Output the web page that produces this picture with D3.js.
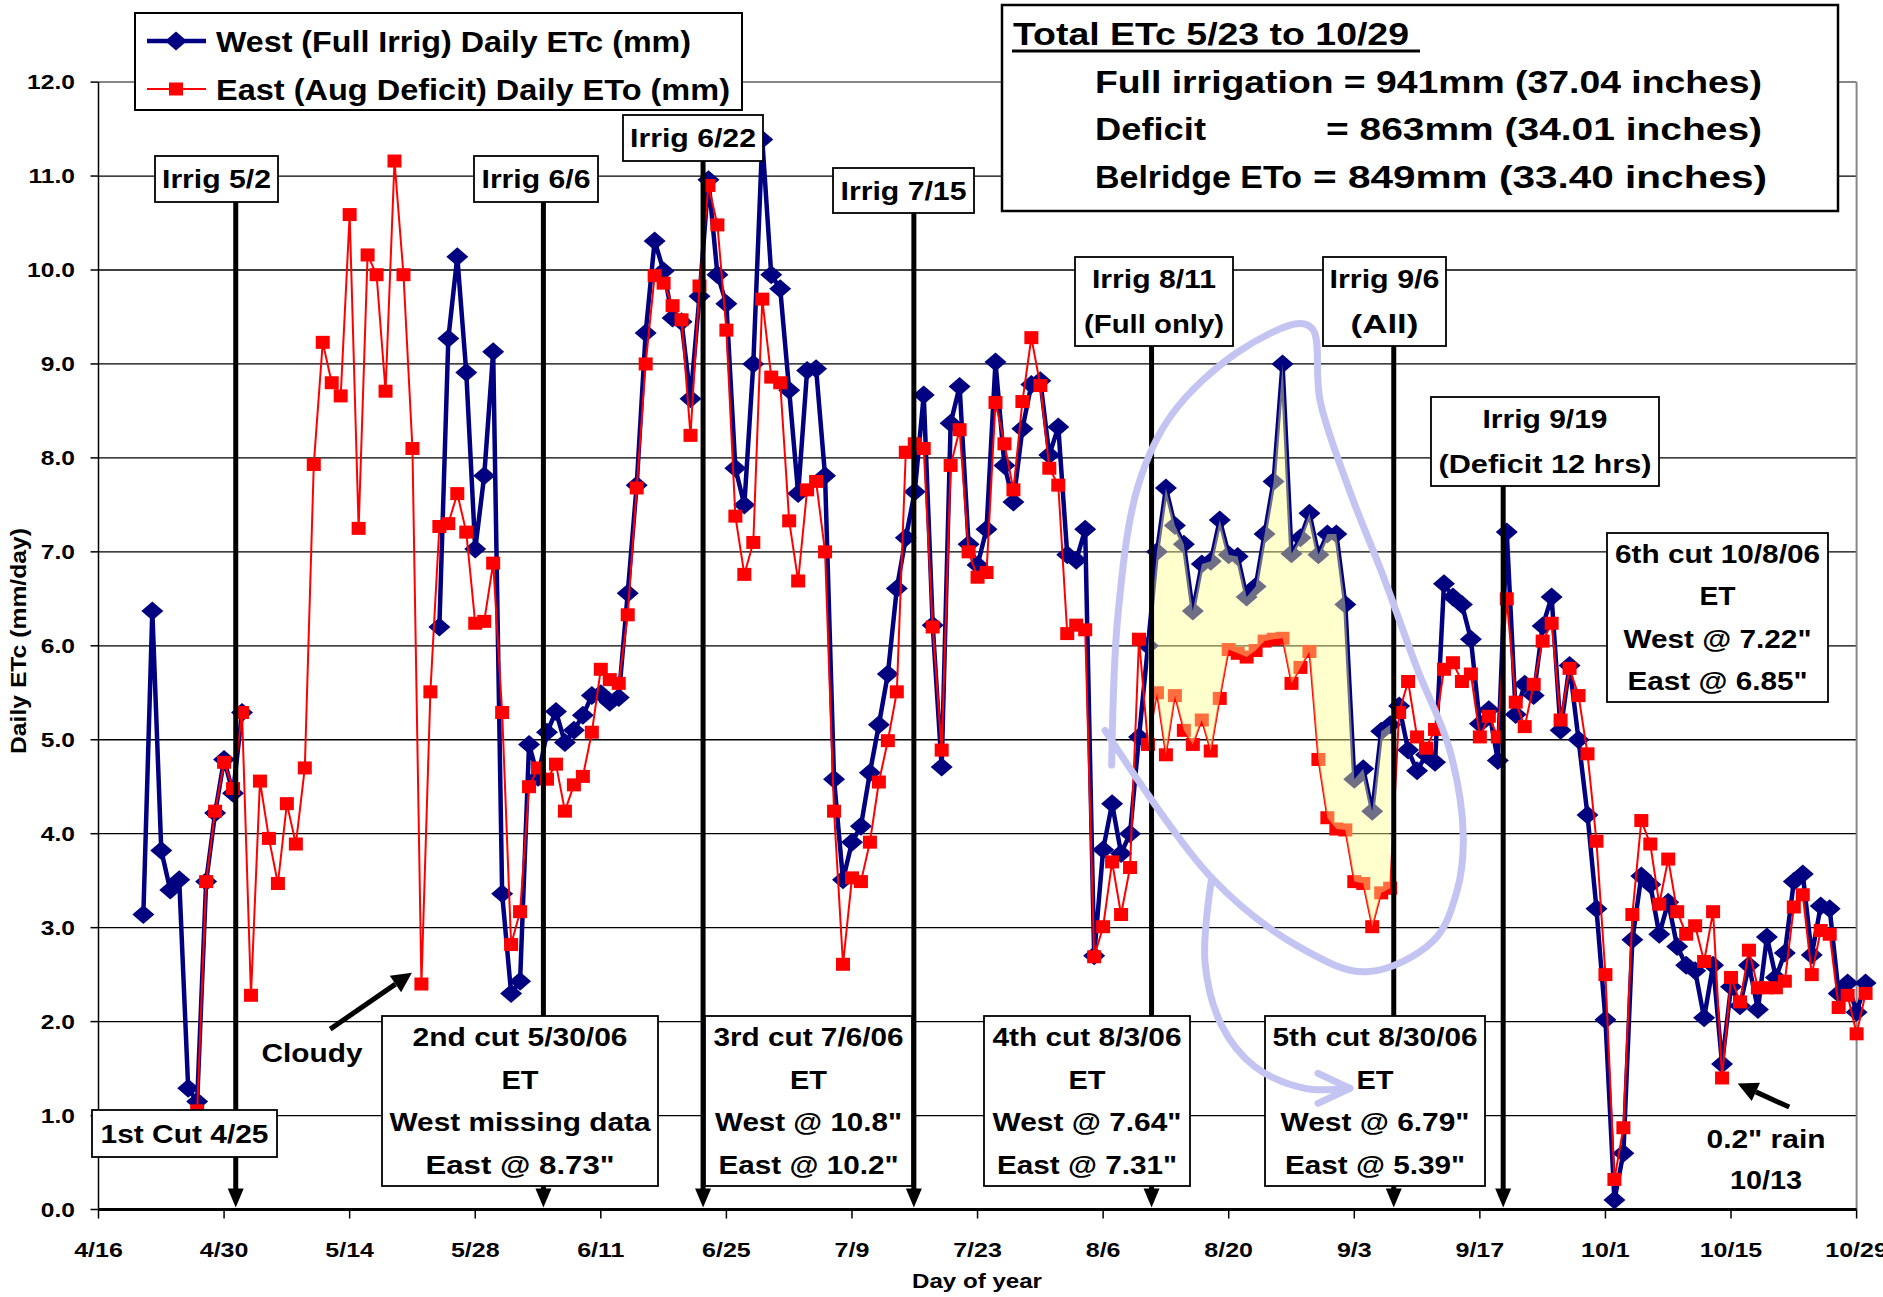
<!DOCTYPE html>
<html lang="en">
<head>
<meta charset="UTF-8">
<title>Daily ETc West vs East</title>
<script src="https://cdn.jsdelivr.net/npm/d3@7"></script>
<style>
  body { margin: 0; background: #fff; }
  svg { display: block; font-family: "Liberation Sans", Arial, sans-serif; }
</style>
</head>
<body>
<svg id="chart" width="1883" height="1297"></svg>
<script>
// ---- data ----
const year = 2006;
const tickLabels = ["4/16", "4/30", "5/14", "5/28", "6/11", "6/25", "7/9", "7/23", "8/6", "8/20", "9/3", "9/17", "10/1", "10/15", "10/29"];
const yTicks = [0, 1, 2, 3, 4, 5, 6, 7, 8, 9, 10, 11, 12];

// West (full irrigation) daily ETc, one value per day from westStart (null = missing data)
const westStart = "4/21";
const westEtc = [
  3.14, 6.37, 3.82, 3.40, 3.51, 1.29, 1.15, 3.49, 4.22, 4.79, 4.43, 5.29,
  null, null, null, null, null, null, null, null, null, null, null, null, null, null, null, null, null, null, null, null, null,
  6.20, 9.27, 10.14, 8.91, 7.03, 7.81, 9.13, 3.36, 2.30, 2.43,
  4.95, 4.60, 5.08, 5.30, 4.97, 5.10, 5.26, 5.47, 5.49, 5.40,
  5.45, 6.56, 7.71, 9.33, 10.31, 9.99, 9.49, 9.45, 8.63, 9.72,
  10.96, 9.95, 9.64, 7.89, 7.50, 9.00, 11.39, 9.95, 9.80, 8.72,
  7.62, 8.93, 8.95, 7.81, 4.58, 3.51, 3.91, 4.08, 4.65, 5.16,
  5.70, 6.61, 7.15, 7.64, 8.67, 6.22, 4.71, 8.37, 8.76, 7.08,
  6.86, 7.24, 9.02, 7.92, 7.53, 8.31, 8.78, 8.82, 8.03, 8.33,
  6.97, 6.91, 7.24, 2.70, 3.83, 4.32, 3.79, 4.00, 5.03, 6.00,
  7.00, 7.68, 7.28, 7.08, 6.37, 6.87, 6.90, 7.34, 6.97, 6.95,
  6.52, 6.63, 7.19, 7.75, 9.00, 6.98, 7.15, 7.41, 6.97, 7.19,
  7.19, 6.44, 4.58, 4.69, 4.24, 5.09, 5.16, 5.36, 4.89, 4.67,
  4.84, 4.76, 6.66, 6.52, 6.44, 6.07, 5.17, 5.32, 4.78, 7.21,
  5.27, 5.59, 5.47, 6.21, 6.52, 5.10, 5.79, 5.00, 4.20, 3.20,
  2.02, 0.10, 0.60, 2.87, 3.55, 3.46, 2.93, 3.27, 2.80, 2.60,
  2.54, 2.04, 2.60, 1.55, 2.37, 2.17, 2.60, 2.13, 2.90, 2.47,
  2.73, 3.49, 3.57, 2.71, 3.23, 3.20, 2.30, 2.41, 2.10, 2.41
];

// East (August deficit) daily values from eastStart
const eastStart = "4/27";
const eastEto = [
  1.05, 3.49, 4.24, 4.76, 4.48, 5.29, 2.28, 4.56, 3.95, 3.47,
  4.32, 3.89, 4.70, 7.93, 9.23, 8.80, 8.66, 10.59, 7.25, 10.16,
  9.95, 8.71, 11.16, 9.95, 8.10, 2.40, 5.51, 7.27, 7.30, 7.62,
  7.21, 6.24, 6.26, 6.88, 5.29, 2.82, 3.17, 4.50, 4.70, 4.58,
  4.74, 4.24, 4.52, 4.61, 5.08, 5.75, 5.64, 5.60, 6.33, 7.68,
  9.00, 9.94, 9.86, 9.62, 9.47, 8.24, 9.83, 10.90, 10.48, 9.36,
  7.38, 6.76, 7.10, 9.69, 8.86, 8.80, 7.33, 6.69, 7.66, 7.75,
  7.00, 4.24, 2.61, 3.53, 3.49, 3.91, 4.55, 4.99, 5.51, 8.06,
  8.15, 8.10, 6.20, 4.89, 7.92, 8.30, 7.00, 6.73, 6.78, 8.59,
  8.15, 7.66, 8.60, 9.28, 8.77, 7.89, 7.71, 6.13, 6.22, 6.17,
  2.69, 3.01, 3.70, 3.14, 3.64, 6.07, 4.95, 5.50, 4.84, 5.47,
  5.10, 4.95, 5.21, 4.88, 5.44, 5.96, 5.92, 5.88, 5.95, 6.05,
  6.07, 6.08, 5.60, 5.77, 5.94, 4.79, 4.17, 4.05, 4.04, 3.49,
  3.47, 3.01, 3.37, 3.42, 5.29, 5.62, 5.03, 4.91, 5.11, 5.75,
  5.82, 5.62, 5.70, 5.03, 5.25, 5.03, 6.50, 5.40, 5.14, 5.59,
  6.05, 6.24, 5.21, 5.76, 5.47, 4.85, 3.92, 2.50, 0.32, 0.87,
  3.14, 4.14, 3.89, 3.25, 3.73, 3.17, 2.93, 3.02, 2.64, 3.17,
  1.40, 2.47, 2.21, 2.76, 2.36, 2.36, 2.36, 2.43, 3.22, 3.35,
  2.50, 2.97, 2.93, 2.15, 2.28, 1.87, 2.30
];

// deficit period shaded between the two series
const shadeFrom = "8/11";
const shadeTo = "9/7";

// irrigation markers: label lines, position in days after 4/16 (as drawn), label box
const irrigations = [
  { lines: ["Irrig 5/2"], at: 15.3, box: [155, 156, 278, 202], widths: [109] },
  { lines: ["Irrig 6/6"], at: 49.6, box: [474, 156, 598, 202], widths: [109] },
  { lines: ["Irrig 6/22"], at: 67.4, box: [623, 115, 763, 161], widths: [126] },
  { lines: ["Irrig 7/15"], at: 90.9, box: [833, 168, 974, 213], widths: [126] },
  { lines: ["Irrig 8/11", "(Full only)"], at: 117.4, box: [1075, 257, 1233, 346], widths: [124, 140] },
  { lines: ["Irrig 9/6", "(All)"], at: 144.4, box: [1323, 257, 1446, 346], widths: [110, 68] },
  { lines: ["Irrig 9/19", "(Deficit 12 hrs)"], at: 156.6, box: [1431, 397, 1659, 486], widths: [125, 213] }
];

// cutting notes
const notes = [
  { lines: ["1st Cut 4/25"], box: [92, 1110, 277, 1157], widths: [168] },
  { lines: ["2nd cut 5/30/06", "ET", "West missing data", "East @ 8.73\""], box: [382, 1016, 658, 1186], widths: [215, 37, 261, 189] },
  { lines: ["3rd cut 7/6/06", "ET", "West @ 10.8\"", "East @ 10.2\""], box: [705, 1016, 912, 1186], widths: [190, 37, 187, 180] },
  { lines: ["4th cut 8/3/06", "ET", "West @ 7.64\"", "East @ 7.31\""], box: [984, 1016, 1190, 1186], widths: [189, 37, 189, 180] },
  { lines: ["5th cut 8/30/06", "ET", "West @ 6.79\"", "East @ 5.39\""], box: [1265, 1016, 1485, 1186], widths: [205, 37, 189, 180] },
  { lines: ["6th cut 10/8/06", "ET", "West @ 7.22\"", "East @ 6.85\""], box: [1607, 533, 1828, 702], widths: [205, 36, 188, 180] }
];

// hand-drawn loop around the deficit period, in (days after 4/16, mm/day)
const loopPts = [[112.95, 4.73], [113.69, 6.37], [115.92, 7.71], [119.64, 8.46], [127.07, 9.13], [133.95, 9.43],
  [135.43, 9.36], [136.18, 8.61], [139.52, 7.64], [143.23, 6.74], [146.96, 5.77], [150.67, 4.88], [152.15, 3.98],
  [151.42, 3.38], [148.81, 2.86], [141.38, 2.53], [133.95, 2.79], [124.1, 3.53], [112.21, 5.10]];
const tailPts = [[124.1, 3.53], [123.35, 2.64], [125.21, 1.96], [128.93, 1.52], [134.5, 1.29], [139.52, 1.29]];

// ---- drawing ----
const W = 1883, H = 1297;
const X0 = 98.5, X1 = 1856.6, Y0 = 1209.5, Y1 = 82.1;
const navy = "#000080", red = "#ff0000";

const parseMD = s => d3.utcParse("%m/%d/%Y")(s + "/" + year);
const t0 = parseMD(tickLabels[0]);

const x = d3.scaleUtc()
  .domain([t0, parseMD(tickLabels[tickLabels.length - 1])])
  .range([X0, X1]);
const y = d3.scaleLinear().domain([0, 12]).range([Y0, Y1]);
const xd = d => x(new Date(+t0 + d * 864e5)); // fractional days after 4/16

const svg = d3.select("#chart");
svg.append("rect").attr("width", W).attr("height", H).attr("fill", "#fff");

function txt(parent, px, py, s, o) {
  const t = parent.append("text")
    .attr("x", px).attr("y", py).text(s)
    .attr("font-size", o.size)
    .attr("font-weight", o.weight || "bold")
    .attr("text-anchor", o.anchor || "start")
    .attr("fill", "#000");
  if (o.width) {
    t.attr("textLength", o.width).attr("lengthAdjust", "spacingAndGlyphs");
  } else if (o.stretch) {
    const w = t.node().getComputedTextLength();
    t.attr("textLength", w * o.stretch).attr("lengthAdjust", "spacingAndGlyphs");
  }
  return t;
}

// grid + frame
const grid = svg.append("g");
yTicks.filter(v => v > 0).forEach(v => {
  grid.append("line")
    .attr("x1", X0).attr("x2", X1).attr("y1", y(v)).attr("y2", y(v))
    .attr("stroke", v === 12 ? "#868686" : "#000")
    .attr("stroke-width", v === 12 ? 2 : 1.3);
});
grid.append("line").attr("x1", X1).attr("x2", X1).attr("y1", Y1).attr("y2", Y0)
  .attr("stroke", "#868686").attr("stroke-width", 2);
grid.append("line").attr("x1", X0).attr("x2", X0).attr("y1", Y1).attr("y2", Y0)
  .attr("stroke", "#000").attr("stroke-width", 1.5);
yTicks.forEach(v => {
  grid.append("line").attr("x1", X0 - 8).attr("x2", X0).attr("y1", y(v)).attr("y2", y(v))
    .attr("stroke", "#000").attr("stroke-width", 1.5);
});
tickLabels.forEach(s => {
  grid.append("line").attr("x1", x(parseMD(s))).attr("x2", x(parseMD(s)))
    .attr("y1", Y0).attr("y2", Y0 + 9).attr("stroke", "#000").attr("stroke-width", 1.5);
});
grid.append("line").attr("x1", X0).attr("x2", X1).attr("y1", Y0).attr("y2", Y0)
  .attr("stroke", "#000").attr("stroke-width", 3);

// series
const west = westEtc.map((v, i) => ({ date: d3.utcDay.offset(parseMD(westStart), i), v }));
const east = eastEto.map((v, i) => ({ date: d3.utcDay.offset(parseMD(eastStart), i), v }));

const line = d3.line().defined(d => d.v != null).x(d => x(d.date)).y(d => y(d.v));
const diamond = "M0,-9.5L11,0L0,9.5L-11,0Z";

const gW = svg.append("g");
gW.append("path").datum(west).attr("d", line)
  .attr("fill", "none").attr("stroke", navy).attr("stroke-width", 4.5).attr("stroke-linejoin", "round");
gW.selectAll("path.m").data(west.filter(d => d.v != null)).join("path").attr("class", "m")
  .attr("d", diamond).attr("fill", navy)
  .attr("transform", d => `translate(${x(d.date)},${y(d.v)})`);

const gE = svg.append("g");
gE.append("path").datum(east).attr("d", line)
  .attr("fill", "none").attr("stroke", red).attr("stroke-width", 2);
gE.selectAll("rect").data(east).join("rect")
  .attr("x", d => x(d.date) - 7).attr("y", d => y(d.v) - 6.5)
  .attr("width", 14).attr("height", 13).attr("fill", red);

// shaded deficit band
const sFrom = parseMD(shadeFrom), sTo = parseMD(shadeTo);
const eastByTime = new Map(east.map(d => [+d.date, d.v]));
const band = west.filter(d => d.date >= sFrom && d.date <= sTo && d.v != null)
  .map(d => ({ date: d.date, top: d.v, bottom: eastByTime.get(+d.date) }));
svg.append("path").datum(band)
  .attr("d", d3.area().x(d => x(d.date)).y0(d => y(d.bottom)).y1(d => y(d.top)))
  .attr("fill", "#ffff8c").attr("opacity", 0.43);

// irrigation arrows
const gI = svg.append("g");
irrigations.forEach(r => {
  const px = xd(r.at);
  gI.append("line").attr("x1", px).attr("x2", px).attr("y1", r.box[3]).attr("y2", Y0 - 18)
    .attr("stroke", "#000").attr("stroke-width", 5);
  gI.append("path")
    .attr("d", `M${px - 8},${Y0 - 21}L${px + 8},${Y0 - 21}L${px},${Y0 - 2}Z`)
    .attr("fill", "#000");
});

// boxes with text
function noteBox(b) {
  const [bx0, by0, bx1, by1] = b.box;
  const g = svg.append("g");
  g.append("rect").attr("x", bx0).attr("y", by0).attr("width", bx1 - bx0).attr("height", by1 - by0)
    .attr("fill", "#fff").attr("stroke", "#000").attr("stroke-width", 1.8);
  const step = (by1 - by0) / b.lines.length;
  b.lines.forEach((s, i) => {
    txt(g, (bx0 + bx1) / 2, by0 + step * (i + 0.5) + 9, s, { size: 25, anchor: "middle", width: b.widths[i] });
  });
}
irrigations.forEach(noteBox);
notes.forEach(noteBox);

// legend
const gL = svg.append("g");
gL.append("rect").attr("x", 135).attr("y", 13).attr("width", 607).attr("height", 97)
  .attr("fill", "#fff").attr("stroke", "#000").attr("stroke-width", 2);
gL.append("line").attr("x1", 147).attr("x2", 206).attr("y1", 41).attr("y2", 41)
  .attr("stroke", navy).attr("stroke-width", 4.5);
gL.append("path").attr("d", diamond).attr("fill", navy).attr("transform", "translate(176,41)");
txt(gL, 216, 52, "West (Full Irrig) Daily ETc (mm)", { size: 29, width: 475 });
gL.append("line").attr("x1", 147).attr("x2", 206).attr("y1", 89).attr("y2", 89)
  .attr("stroke", red).attr("stroke-width", 2);
gL.append("rect").attr("x", 169).attr("y", 82.5).attr("width", 14).attr("height", 13).attr("fill", red);
txt(gL, 216, 100, "East (Aug Deficit) Daily ETo (mm)", { size: 29, width: 514 });

// totals box
const gT = svg.append("g");
gT.append("rect").attr("x", 1002).attr("y", 5).attr("width", 836).attr("height", 206)
  .attr("fill", "#fff").attr("stroke", "#000").attr("stroke-width", 2.5);
txt(gT, 1013, 45, "Total ETc 5/23 to 10/29", { size: 32, width: 396 });
gT.append("line").attr("x1", 1012).attr("x2", 1420).attr("y1", 51).attr("y2", 51)
  .attr("stroke", "#000").attr("stroke-width", 3);
txt(gT, 1095, 93, "Full irrigation = 941mm (37.04 inches)", { size: 32, width: 667 });
txt(gT, 1095, 140, "Deficit", { size: 32, width: 111 });
txt(gT, 1326, 140, "= 863mm (34.01 inches)", { size: 32, width: 436 });
txt(gT, 1095, 188, "Belridge ETo", { size: 32, width: 207 });
txt(gT, 1313, 188, "= 849mm (33.40 inches)", { size: 32, width: 454 });

// callout arrows
function arrow(from, to, width, head) {
  const [ax, ay] = [xd(from[0]), y(from[1])];
  const [bx, by] = [xd(to[0]), y(to[1])];
  const ang = Math.atan2(by - ay, bx - ax);
  const cx = bx - head * Math.cos(ang), cy = by - head * Math.sin(ang);
  const nx = -Math.sin(ang) * head * 0.5, ny = Math.cos(ang) * head * 0.5;
  svg.append("line").attr("x1", ax).attr("y1", ay).attr("x2", cx).attr("y2", cy)
    .attr("stroke", "#000").attr("stroke-width", width);
  svg.append("path").attr("d", `M${cx + nx},${cy + ny}L${bx},${by}L${cx - nx},${cy - ny}Z`).attr("fill", "#000");
}
arrow([25.83, 1.92], [34.94, 2.52], 5, 20);
txt(svg, 312, 1062, "Cloudy", { size: 25, anchor: "middle", width: 101 });
arrow([188.49, 1.09], [182.74, 1.34], 5, 20);
txt(svg, 1766, 1148, "0.2\" rain", { size: 25, anchor: "middle", width: 119 });
txt(svg, 1766, 1189, "10/13", { size: 25, anchor: "middle", width: 72 });

// hand-drawn loop and arrow
const lav = "rgb(196,196,242)";
const sketch = d3.line().x(p => xd(p[0])).y(p => y(p[1])).curve(d3.curveCatmullRom);
svg.append("path").attr("d", sketch(loopPts)).attr("fill", "none")
  .attr("stroke", lav).attr("stroke-width", 7).attr("stroke-linecap", "round").attr("stroke-linejoin", "round");
svg.append("path").attr("d", sketch(tailPts)).attr("fill", "none")
  .attr("stroke", lav).attr("stroke-width", 7).attr("stroke-linecap", "round");
const tip = tailPts[tailPts.length - 1];
const tx = xd(tip[0]), ty = y(tip[1]);
svg.append("path").attr("d", `M${tx - 32},${ty - 15}L${tx},${ty}L${tx - 32},${ty + 15}`)
  .attr("fill", "none").attr("stroke", lav).attr("stroke-width", 7)
  .attr("stroke-linecap", "round").attr("stroke-linejoin", "round");

// axis labels
yTicks.forEach(v => {
  txt(svg, 75, y(v) + 7, v.toFixed(1), { size: 20, anchor: "end", stretch: 1.23 });
});
tickLabels.forEach(s => {
  txt(svg, x(parseMD(s)), 1257, s, { size: 20, anchor: "middle", stretch: 1.25 });
});
txt(svg, 977, 1288, "Day of year", { size: 20, anchor: "middle", width: 130 });
txt(svg, 0, 0, "Daily ETc (mm/day)", { size: 22, anchor: "middle", width: 226 })
  .attr("transform", "translate(26,641) rotate(-90)");
</script>
</body>
</html>
